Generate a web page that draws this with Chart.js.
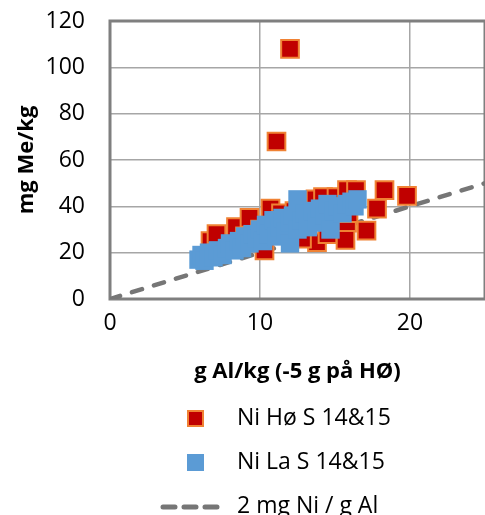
<!DOCTYPE html>
<html>
<head>
<meta charset="utf-8">
<script src="https://cdn.jsdelivr.net/npm/chart.js@4"></script>
<style>
  html, body { margin: 0; padding: 0; background: #fff; }
  #wrap { width: 485px; height: 515px; }
</style>
</head>
<body>
<div id="wrap"><canvas id="chart" width="485" height="515"></canvas></div>
<script>
// data
const hoX = [12.0, 11.1, 6.7, 7.1, 8.4, 9.3, 10.3, 10.7, 11.4, 12.3, 13.3, 13.7, 14.2, 14.8, 15.1, 15.4, 15.8, 16.4, 15.8, 15.9, 18.3, 19.8, 17.8, 17.1, 15.7, 13.8, 12.8, 14.5, 11.8, 10.0, 9.0];
const hoY = [108, 68, 25, 28, 31, 35, 21, 39, 37, 38, 41, 43, 44, 37, 44, 38, 47, 47, 33, 37, 47, 44.5, 39, 29.5, 25.5, 24.5, 26, 28, 33, 30, 27];

const laX = [5.9, 6.1, 6.3, 6.6, 6.9, 7.2, 7.5, 7.8, 8.0, 8.3, 8.6, 8.8, 9.0, 9.3, 9.5, 9.8, 10.0, 10.2, 10.4, 10.6, 10.9, 11.1, 11.3, 11.5, 11.7, 12.0, 12.0, 12.2, 12.5, 12.5, 12.8, 13.0, 13.2, 13.5, 13.8, 14.0, 14.3, 14.5, 14.7, 14.9, 15.2, 15.5, 15.8, 16.1, 16.3, 16.5];
const laY = [17, 19, 16.5, 20, 18, 21, 19, 22, 24, 21, 25, 22, 27, 24, 28, 26, 30, 25, 32, 28, 34, 27, 31, 35, 29, 33, 24, 36, 43, 30, 34, 37, 31, 38, 33, 39, 36, 41, 30, 38, 40, 37, 41, 42, 40, 43];

const refX = [0, 25];
const refY = [0, 50];

const xTicks = [0, 10, 20];
const yTicks = [0, 20, 40, 60, 80, 100, 120];

const labels = ["Ni Hø S 14&15", "Ni La S 14&15", "2 mg Ni / g Al"];
const xTitle = "g Al/kg (-5 g på HØ)";
const yTitle = "mg Me/kg";

const toPts = (xs, ys) => xs.map((x, i) => ({ x: x, y: ys[i] }));

const FONT = "'Open Sans', sans-serif";
const GRID = "#a6a6a6";
const BORDER = "#7f7f7f";

// frame round the plot area + legend drawn by hand (vertical, below the axis)
const framePlugin = {
  id: "frame",
  beforeDatasetsDraw(chart) {
    const a = chart.chartArea;
    const ctx = chart.ctx;
    ctx.save();
    ctx.strokeStyle = BORDER;
    ctx.lineWidth = 3;
    ctx.strokeRect(a.left, a.top, a.right - a.left, a.bottom - a.top);
    ctx.restore();
  },
  afterDraw(chart) {
    const ctx = chart.ctx;
    const rows = [418, 462, 506];
    const ds = chart.data.datasets;
    ctx.save();
    ctx.font = "23px " + FONT;
    ctx.textBaseline = "middle";
    // red square
    ctx.fillStyle = ds[1].backgroundColor;
    ctx.strokeStyle = ds[1].borderColor;
    ctx.lineWidth = 2;
    ctx.fillRect(188, rows[0] - 7, 15, 15);
    ctx.strokeRect(188, rows[0] - 7, 15, 15);
    // blue square
    ctx.fillStyle = ds[0].backgroundColor;
    ctx.fillRect(187, rows[1] - 8, 17, 17);
    // dashed line
    ctx.strokeStyle = ds[2].borderColor;
    ctx.lineWidth = 5;
    ctx.lineCap = "round";
    ctx.setLineDash([12, 9]);
    ctx.beginPath();
    ctx.moveTo(163, rows[2] + 1);
    ctx.lineTo(222, rows[2] + 1);
    ctx.stroke();
    ctx.setLineDash([]);
    ctx.fillStyle = "#000";
    ctx.fillText(labels[0], 237, rows[0]);
    ctx.fillText(labels[1], 237, rows[1]);
    ctx.fillText(labels[2], 237, rows[2]);
    ctx.restore();
  }
};

new Chart(document.getElementById("chart"), {
  type: "scatter",
  data: {
    datasets: [
      {
        label: labels[1],
        data: toPts(laX, laY),
        pointStyle: "rect",
        pointRadius: 13,
        pointHoverRadius: 13,
        backgroundColor: "#5b9bd5",
        borderColor: "#5b9bd5",
        borderWidth: 0,
        order: 0
      },
      {
        label: labels[0],
        data: toPts(hoX, hoY),
        pointStyle: "rect",
        pointRadius: 12.5,
        pointHoverRadius: 12.5,
        backgroundColor: "#c00000",
        borderColor: "#f08234",
        borderWidth: 2,
        order: 1
      },
      {
        type: "line",
        label: labels[2],
        data: toPts(refX, refY),
        borderColor: "#767676",
        borderWidth: 4.5,
        borderDash: [10.5, 12.5],
        borderCapStyle: "round",
        pointRadius: 0,
        fill: false,
        order: 2
      }
    ]
  },
  options: {
    responsive: false,
    animation: false,
    layout: { autoPadding: false, padding: { top: 21, right: 0, bottom: 126, left: 0 } },
    plugins: {
      legend: { display: false },
      tooltip: { enabled: false }
    },
    scales: {
      x: {
        type: "linear",
        min: 0,
        max: 25,
        afterBuildTicks: (s) => { s.ticks = xTicks.map((v) => ({ value: v })); },
        afterFit: (s) => { s.height = 90; s.paddingLeft = 0; s.paddingRight = 0; },
        grid: { color: GRID, lineWidth: 1.5, drawTicks: false },
        border: { display: false },
        ticks: { color: "#000", font: { family: FONT, size: 23 }, padding: 11 },
        title: {
          display: true,
          text: xTitle,
          color: "#000",
          font: { family: FONT, size: 22, weight: "bold" },
          padding: { top: -2 }
        }
      },
      y: {
        min: 0,
        max: 120,
        afterBuildTicks: (s) => { s.ticks = yTicks.map((v) => ({ value: v })); },
        afterFit: (s) => { s.width = 110; s.paddingTop = 0; s.paddingBottom = 0; },
        grid: { color: GRID, lineWidth: 1.5, drawTicks: false },
        border: { display: false },
        ticks: { color: "#000", font: { family: FONT, size: 23 }, padding: 25 },
        title: {
          display: true,
          text: yTitle,
          color: "#000",
          font: { family: FONT, size: 22, weight: "bold" },
          padding: { top: 14, bottom: 0 }
        }
      }
    }
  },
  plugins: [framePlugin]
});
</script>
</body>
</html>
